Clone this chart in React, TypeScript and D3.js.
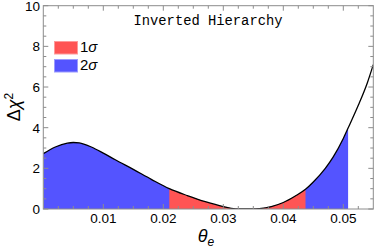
import React from "react";
import * as d3 from "d3";

// Δχ² profile vs θ_e
const theta = [
  0, 0.002, 0.004, 0.005, 0.006, 0.008, 0.01, 0.012, 0.015, 0.018, 0.021, 0.024, 0.027, 0.03,
  0.032, 0.033, 0.035, 0.036, 0.038, 0.04, 0.042, 0.0437, 0.045, 0.047, 0.0483, 0.05, 0.0508, 0.0525, 0.054, 0.055,
];
const dchi2 = [
  2.72, 3.05, 3.24, 3.27, 3.25, 3.05, 2.75, 2.42, 1.95, 1.46, 1.0, 0.66, 0.36, 0.12,
  0.01, 0, 0, 0.02, 0.12, 0.32, 0.64, 0.97, 1.33, 2.0, 2.55, 3.47, 3.98, 5.1, 6.2, 7.1,
];

const oneSigma: [number, number] = [0.021, 0.0437];
const twoSigma: [number, number] = [0, 0.0508];

const xTicks = [0.01, 0.02, 0.03, 0.04, 0.05];
const yTicks = [0, 2, 4, 6, 8, 10];

const RED = "#ff5454";
const BLUE = "#5454ff";
const FRAME = "#8c8c8c";

const W = 374;
const H = 250;
const M = { left: 43.3, right: 0.7, top: 5.7, bottom: 41 };

export default function App() {
  const x = d3.scaleLinear().domain([0, 0.055]).range([M.left, W - M.right]);
  const y = d3.scaleLinear().domain([0, 10]).range([H - M.bottom, M.top]);

  const pts = theta.map((t, i) => ({ t, v: dchi2[i] }));

  const line = d3
    .line<{ t: number; v: number }>()
    .x((d) => x(d.t))
    .y((d) => y(d.v))
    .curve(d3.curveMonotoneX);
  const area = d3
    .area<{ t: number; v: number }>()
    .x((d) => x(d.t))
    .y0(y(0))
    .y1((d) => y(d.v))
    .curve(d3.curveMonotoneX);

  const minorX = d3.range(0.0025, 0.055, 0.0025).filter((v) => !xTicks.some((t) => Math.abs(t - v) < 1e-6));
  const minorY = d3.range(0.5, 10, 0.5).filter((v) => v % 2 !== 0);

  const x0 = x(0), x1 = x(0.055), yb = y(0), yt = y(10);
  const font = "'Liberation Sans', Arial, sans-serif";

  return (
    <svg width={W} height={H} style={{ position: "absolute", left: 0, top: 0 }}>
      <defs>
        <clipPath id="twoS">
          <rect x={x(twoSigma[0])} y={yt} width={x(twoSigma[1]) - x(twoSigma[0])} height={yb - yt} />
        </clipPath>
        <clipPath id="oneS">
          <rect x={x(oneSigma[0])} y={yt} width={x(oneSigma[1]) - x(oneSigma[0])} height={yb - yt} />
        </clipPath>
        <clipPath id="plot">
          <rect x={x0} y={yt} width={x1 - x0} height={yb - yt} />
        </clipPath>
      </defs>

      <path d={area(pts) ?? ""} fill={BLUE} clipPath="url(#twoS)" />
      <path d={area(pts) ?? ""} fill={RED} clipPath="url(#oneS)" />
      <path d={line(pts) ?? ""} fill="none" stroke="#000" strokeWidth={1.3} clipPath="url(#plot)" />

      {/* frame */}
      <rect x={x0} y={yt} width={x1 - x0} height={yb - yt} fill="none" stroke={FRAME} strokeWidth={1} />

      {/* x ticks */}
      {xTicks.map((t) => (
        <g key={"x" + t}>
          <line x1={x(t)} x2={x(t)} y1={yb} y2={yb - 5} stroke={FRAME} />
          <line x1={x(t)} x2={x(t)} y1={yt} y2={yt + 5} stroke={FRAME} />
          <text x={x(t)} y={223} textAnchor="middle" fontFamily={font} fontSize={13.5} fill="#000">
            {t.toFixed(2)}
          </text>
        </g>
      ))}
      {minorX.map((t) => (
        <g key={"mx" + t}>
          <line x1={x(t)} x2={x(t)} y1={yb} y2={yb - 3} stroke={FRAME} />
          <line x1={x(t)} x2={x(t)} y1={yt} y2={yt + 3} stroke={FRAME} />
        </g>
      ))}

      {/* y ticks */}
      {yTicks.map((t) => (
        <g key={"y" + t}>
          <line x1={x0} x2={x0 + 5} y1={y(t)} y2={y(t)} stroke={FRAME} />
          <line x1={x1} x2={x1 - 5} y1={y(t)} y2={y(t)} stroke={FRAME} />
          <text x={40} y={y(t) + 5} textAnchor="end" fontFamily={font} fontSize={13.5} fill="#000">
            {t}
          </text>
        </g>
      ))}
      {minorY.map((t) => (
        <g key={"my" + t}>
          <line x1={x0} x2={x0 + 3} y1={y(t)} y2={y(t)} stroke={FRAME} />
          <line x1={x1} x2={x1 - 3} y1={y(t)} y2={y(t)} stroke={FRAME} />
        </g>
      ))}

      {/* axis labels */}
      <text transform="translate(20,107) rotate(-90)" textAnchor="middle" fontFamily={font} fontSize={18} fill="#000">
        Δ<tspan fontStyle="italic">χ</tspan>
        <tspan dy={-7} fontSize={12}>2</tspan>
      </text>
      <text x={206} y={242} textAnchor="middle" fontFamily={font} fontSize={18} fontStyle="italic" fill="#000">
        θ<tspan dy={4} fontSize={12}>e</tspan>
      </text>

      {/* title */}
      <text x={208} y={25} textAnchor="middle" fontFamily="'Liberation Mono', 'Courier New', monospace" fontSize={13.8} fill="#000">
        Inverted Hierarchy
      </text>

      {/* legend */}
      <rect x={54.5} y={41.5} width={23} height={12.5} fill={RED} stroke="#ff9a9a" strokeWidth={1} />
      <rect x={54.5} y={59.5} width={23} height={12.5} fill={BLUE} stroke="#9a9aff" strokeWidth={1} />
      <text x={80} y={52} fontFamily={font} fontSize={15} fill="#000">
        1<tspan fontStyle="italic">σ</tspan>
      </text>
      <text x={80} y={70} fontFamily={font} fontSize={15} fill="#000">
        2<tspan fontStyle="italic">σ</tspan>
      </text>
    </svg>
  );
}
